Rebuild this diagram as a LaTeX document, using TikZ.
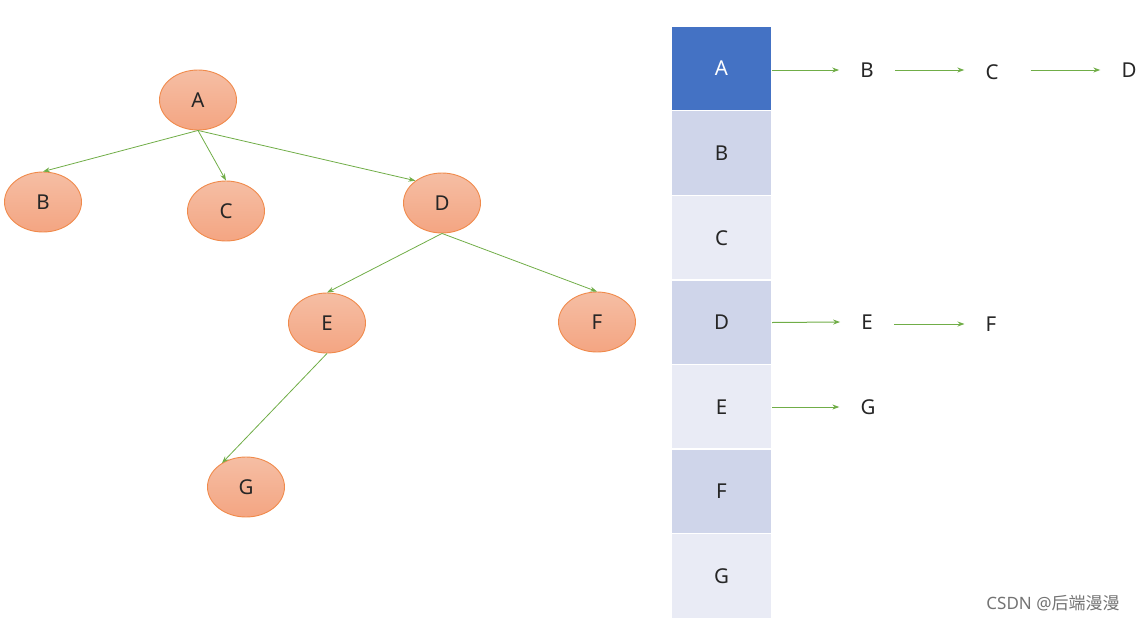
\documentclass[tikz,border=0pt]{standalone}
\usepackage{fontspec}
\setmainfont{Noto Sans}
\newfontfamily\cjk{Noto Sans CJK SC}
\usetikzlibrary{arrows.meta,shapes.geometric}
\definecolor{edgegreen}{HTML}{70AD47}
\definecolor{ellborder}{HTML}{F08A4B}
\definecolor{elltop}{HTML}{F5BEA4}
\definecolor{ellbot}{HTML}{F4A582}
\definecolor{cellblue}{HTML}{4472C4}
\definecolor{celldark}{HTML}{CFD5EA}
\definecolor{celllight}{HTML}{E9EBF5}
\tikzset{
  treenode/.style={ellipse, draw=ellborder, line width=0.9pt, top color=elltop, bottom color=ellbot,
    minimum width=77pt, minimum height=60pt, inner sep=0pt, font=\fontsize{20.5}{20.5}\selectfont, text=black!85},
  cellbox/.style={rectangle, draw=white, line width=1.2pt, minimum width=100pt, minimum height=85pt,
    inner sep=0pt, font=\fontsize{20.5}{20.5}\selectfont, text=black!85},
  listnode/.style={inner ysep=0pt, inner xsep=21pt, font=\fontsize{20.5}{20.5}\selectfont, text=black!85},
  treeedge/.style={draw=edgegreen, line width=0.8pt, -{Stealth[length=7pt,width=5pt]}},
  listedge/.style={draw=edgegreen, line width=1pt, -{Stealth[length=7pt,width=5pt]}}
}
\begin{document}
\begin{tikzpicture}[x=1pt,y=-1pt]
\useasboundingbox (0,0) rectangle (1137,621);
% tree
\node[treenode] (A) at (198,100) {A};
\node[treenode] (B) at (43,202) {B};
\node[treenode] (C) at (226,211) {C};
\node[treenode] (D) at (442,203) {D};
\node[treenode] (E) at (327,323) {E};
\node[treenode] (F) at (597,322) {F};
\node[treenode] (G) at (246,487) {G};
\draw[treeedge] (A.south) -- (B.north);
\draw[treeedge] (A.south) -- (C.north);
\draw[treeedge] (A.south) -- (D.140);
\draw[treeedge] (D.south) -- (E.north);
\draw[treeedge] (D.south) -- (F.north);
\draw[treeedge] (E.south) -- (G.135);
% table
\node[cellbox, fill=cellblue, text=white, font=\fontsize{20.5}{20.5}\selectfont\bfseries] (tA) at (721.5,68.5) {A};
\node[cellbox, fill=celldark] (tB) at (721.5,153) {B};
\node[cellbox, fill=celllight] (tC) at (721.5,238) {C};
\node[cellbox, fill=celldark] (tD) at (721.5,322.5) {D};
\node[cellbox, fill=celllight] (tE) at (721.5,407) {E};
\node[cellbox, fill=celldark] (tF) at (721.5,491.5) {F};
\node[cellbox, fill=celllight] (tG) at (721.5,576) {G};
% adjacency lists
\node[listnode] (aB) at (867,70) {B};
\node[listnode] (aC) at (992,72) {C};
\node[listnode] (aD) at (1129,70) {D};
\node[listnode] (dE) at (867,322) {E};
\node[listnode] (dF) at (991,324) {F};
\node[listnode] (eG) at (868,407) {G};
\draw[listedge] (tA.east |- aB.west) -- (aB.west);
\draw[listedge] (aB.east) -- (aC.west |- aB.east) ;
\draw[listedge, shorten <=11pt] (aC.east |- aD.west) -- (aD.west);
\draw[listedge] (tD.east) -- (dE.west);
\draw[listedge] (dE.east |- dF.west) -- (dF.west);
\draw[listedge] (tE.east) -- (eG.west);
% watermark
\node[text=black!55, font=\fontsize{17}{17}\selectfont, inner sep=0pt] (wm) at (1053,603) {CSDN @{\cjk 后端漫漫}};
\end{tikzpicture}
\end{document}
